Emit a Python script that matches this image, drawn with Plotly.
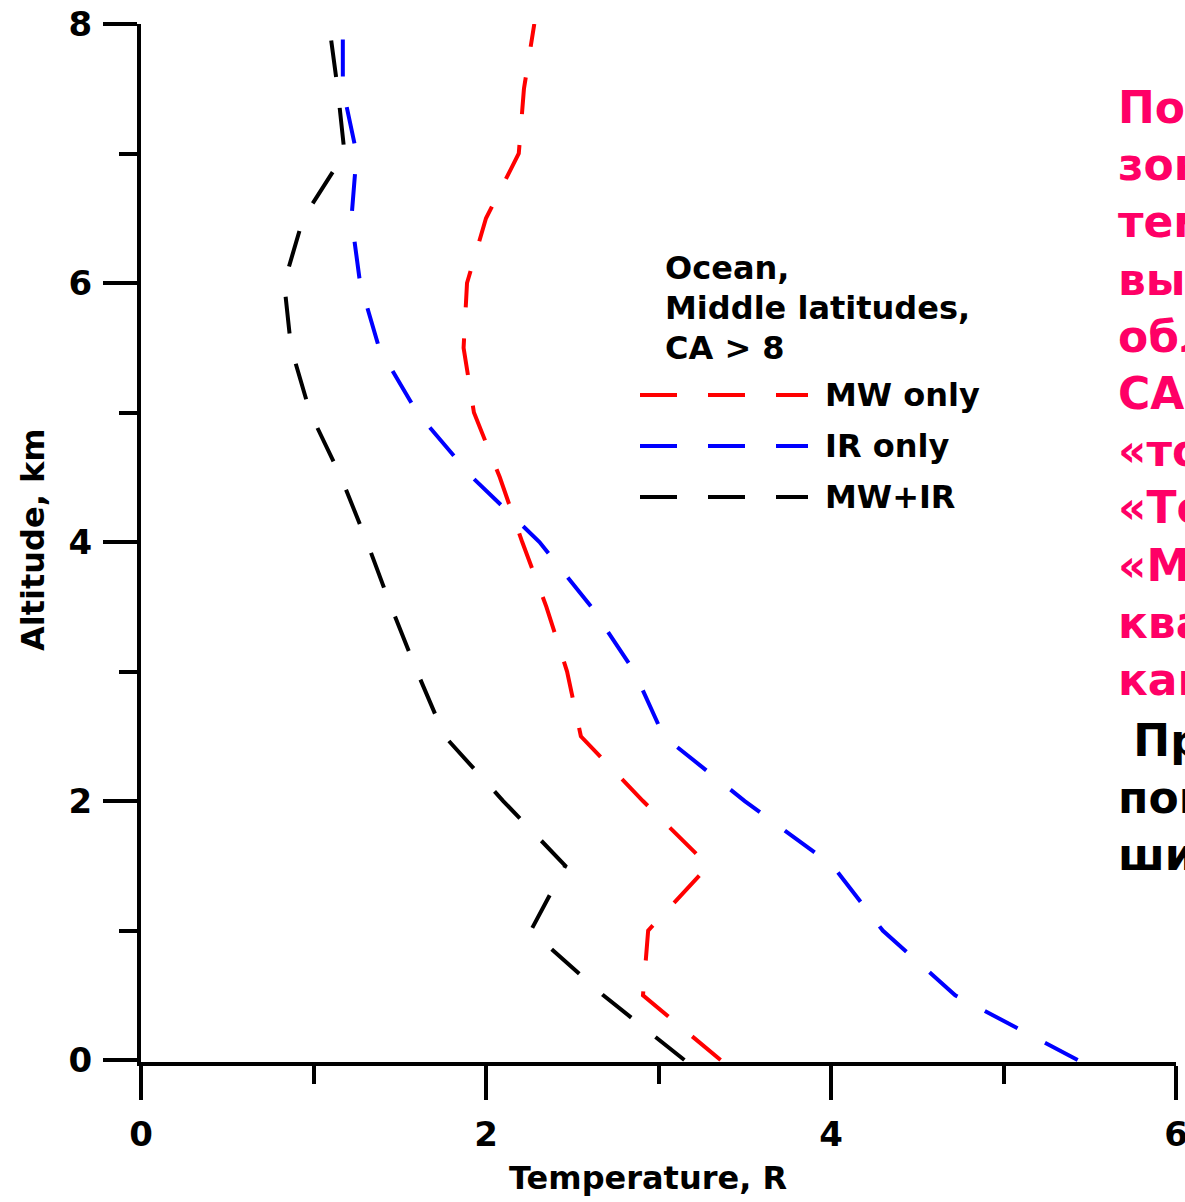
import plotly.graph_objects as go

# Altitude grid (km) and temperature retrieval error (R) for each sensor set
altitude_km = [0, 0.5, 1, 1.5, 2, 2.5, 3, 3.5, 4, 4.5, 5, 5.5, 6, 6.5, 7, 7.5, 8]
mw_only = [3.36, 2.91, 2.94, 3.29, 2.91, 2.55, 2.47, 2.35, 2.21, 2.08, 1.93,
           1.87, 1.89, 2.00, 2.19, 2.22, 2.28]
ir_only = [5.43, 4.72, 4.30, 4.01, 3.50, 3.03, 2.86, 2.61, 2.31, 1.92, 1.60,
           1.38, 1.27, 1.22, 1.25, 1.17, 1.17]
mw_ir = [3.15, 2.68, 2.26, 2.46, 2.10, 1.76, 1.60, 1.45, 1.31, 1.16, 0.98,
         0.87, 0.83, 0.94, 1.18, 1.14, 1.09]

series_names = ["MW only", "IR only", "MW+IR"]
series_values = [mw_only, ir_only, mw_ir]
series_colors = ["#ff0000", "#0000ff", "#000000"]

x_ticks = [0, 2, 4, 6]
y_ticks = [0, 2, 4, 6, 8]
x_title = "Temperature, R"
y_title = "Altitude, km"
legend_title_lines = ["Ocean,", "Middle latitudes,", "CA > 8"]

note_pink_lines = ["Погрешность", "зондирования", "температуры", "выше",
                   "облачности при", "СА > 8:", "«только MW»,", "«Только IR»,",
                   "«MW+IR»", "квадратичная", "канальная"]
note_black_lines = ["\u00a0При совместном", "погрешность", "шире"]

# Page geometry
W, H = 1185, 1202
ML, MR, MT, MB = 141, 9, 24, 140
PW, PH = W - ML - MR, H - MT - MB

FONT = "DejaVu Sans"
DASH = "37px,31px"


def px(x):
    return (x - ML) / PW


def py(y):
    return (H - MB - y) / PH


fig = go.Figure()
for name, vals, color in zip(series_names, series_values, series_colors):
    fig.add_trace(go.Scatter(
        x=vals, y=altitude_km, mode="lines", name=name,
        line=dict(color=color, width=4, dash=DASH),
        showlegend=False, hoverinfo="skip",
    ))

axis_common = dict(
    showline=True, linecolor="black", linewidth=4, mirror=False,
    showgrid=False, zeroline=False,
    ticks="outside", ticklen=34, tickwidth=4, tickcolor="black",
    tickfont=dict(family=FONT, size=34, color="black", weight="bold"),
    minor=dict(dtick=1, ticks="outside", ticklen=18, tickwidth=4,
               tickcolor="black", showgrid=False),
    automargin=False,
    ticklabeloverflow="allow",
)

fig.update_xaxes(range=[0, 6], tickvals=x_ticks, ticklabelstandoff=5,
                 **axis_common)
fig.update_yaxes(range=[-0.015, 8], tickvals=y_ticks, ticklabelstandoff=4,
                 **axis_common)

annotations = []
# axis titles
annotations.append(dict(text=x_title, x=px(648), y=py(1178), xref="paper", yref="paper",
                        xanchor="center", yanchor="middle", showarrow=False,
                        font=dict(family=FONT, size=32, color="black", weight="bold")))
annotations.append(dict(text=y_title, x=px(33), y=py(540), xref="paper", yref="paper",
                        xanchor="center", yanchor="middle", showarrow=False, textangle=-90,
                        font=dict(family=FONT, size=32, color="black", weight="bold")))

# legend block
for i, line in enumerate(legend_title_lines):
    annotations.append(dict(text=line, x=px(663), y=py(268 + 40 * i), xref="paper", yref="paper",
                            xanchor="left", yanchor="middle", showarrow=False,
                            font=dict(family=FONT, size=32, color="black", weight="bold")))

shapes = []
for i, (name, color) in enumerate(zip(series_names, series_colors)):
    yc = 395 + 51 * i
    shapes.append(dict(type="line", xref="paper", yref="paper",
                       x0=px(640), x1=px(808), y0=py(yc), y1=py(yc),
                       line=dict(color=color, width=4, dash=DASH)))
    annotations.append(dict(text=name, x=px(823), y=py(yc), xref="paper", yref="paper",
                            xanchor="left", yanchor="middle", showarrow=False,
                            font=dict(family=FONT, size=32, color="black", weight="bold")))

# side note text
annotations.append(dict(text="<br>".join(note_pink_lines), x=px(1116), y=py(393),
                        xref="paper", yref="paper", xanchor="left", yanchor="middle",
                        align="left", showarrow=False,
                        font=dict(family=FONT, size=44, color="#ff0066", weight="bold")))
annotations.append(dict(text="<br>".join(note_black_lines), x=px(1116), y=py(797),
                        xref="paper", yref="paper", xanchor="left", yanchor="middle",
                        align="left", showarrow=False,
                        font=dict(family=FONT, size=44, color="black", weight="bold")))

fig.update_layout(
    width=W, height=H,
    margin=dict(l=ML, r=MR, t=MT, b=MB, pad=0),
    paper_bgcolor="white", plot_bgcolor="white",
    showlegend=False,
    annotations=annotations, shapes=shapes,
)

fig.write_html("out.html")
